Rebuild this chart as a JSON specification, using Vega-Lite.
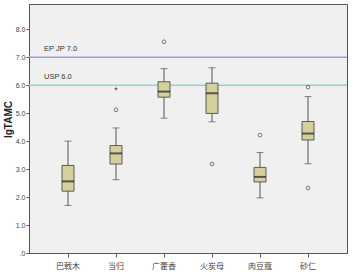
{
  "$schema": "https://vega.github.io/schema/vega-lite/v6.json",
  "width": 318,
  "height": 249,
  "autosize": {"type": "none"},
  "padding": {"left": 29, "top": 4, "right": 6, "bottom": 22},
  "background": "#ffffff",
  "config": {
    "view": {"fill": "#f0f0f0", "stroke": "#555555", "strokeWidth": 1},
    "font": "Liberation Sans",
    "axisY": {
      "labelOverlap": false,
      "tickCount": 9,
      "labelFontSize": 7, "labelColor": "#444444", "tickColor": "#555555", "tickSize": 3,
      "labelPadding": 1, "domainColor": "#555555", "grid": false
    }
  },
  "datasets": {
    "boxes": [
      {"group": "巴戟木", "lower": 1.70, "q1": 2.21, "median": 2.56, "q3": 3.13, "upper": 4.00},
      {"group": "当归", "lower": 2.62, "q1": 3.18, "median": 3.56, "q3": 3.84, "upper": 4.47},
      {"group": "广藿香", "lower": 4.82, "q1": 5.57, "median": 5.77, "q3": 6.12, "upper": 6.59},
      {"group": "火炭母", "lower": 4.69, "q1": 4.99, "median": 5.71, "q3": 6.07, "upper": 6.62},
      {"group": "肉豆蔻", "lower": 1.97, "q1": 2.54, "median": 2.72, "q3": 3.06, "upper": 3.59},
      {"group": "砂仁", "lower": 3.19, "q1": 4.04, "median": 4.27, "q3": 4.70, "upper": 5.59}
    ],
    "outliers": [
      {"group": "当归", "value": 5.12, "kind": "circle"},
      {"group": "当归", "value": 5.87, "kind": "star"},
      {"group": "广藿香", "value": 7.55, "kind": "circle"},
      {"group": "火炭母", "value": 3.18, "kind": "circle"},
      {"group": "肉豆蔻", "value": 4.21, "kind": "circle"},
      {"group": "砂仁", "value": 5.93, "kind": "circle"},
      {"group": "砂仁", "value": 2.32, "kind": "circle"}
    ],
    "refs": [
      {"group": "巴戟木", "value": 7.0, "label": "EP JP 7.0", "col": "#9a9aee"},
      {"group": "巴戟木", "value": 6.0, "label": "USP 6.0", "col": "#8fd3d3"}
    ]
  },
  "encoding": {
    "x": {
      "field": "group", "type": "nominal",
      "sort": ["巴戟木", "当归", "广藿香", "火炭母", "肉豆蔻", "砂仁"],
      "scale": {"paddingInner": 0.5, "paddingOuter": 0.5625},
      "axis": {
        "title": null, "labelAngle": 0, "labelFont": "Noto Sans CJK SC", "labelFontSize": 8,
        "labelColor": "#444444", "tickColor": "#555555", "tickSize": 4, "domainColor": "#555555",
        "labelPadding": 5, "grid": false
      }
    }
  },
  "layer": [
    {
      "data": {"name": "refs"},
      "mark": {"type": "rule", "strokeWidth": 1.5},
      "encoding": {
        "x": null,
        "y": {
          "field": "value", "type": "quantitative",
          "scale": {"domain": [0, 8.9], "nice": false, "zero": true},
          "axis": {
            "title": "lgTAMC", "titleFontSize": 10, "titleFontWeight": "bold", "titleColor": "#222222",
            "titleX": -16, "titleY": 115,
            "values": [0, 1, 2, 3, 4, 5, 6, 7, 8],
            "tickCount": 9,
            "labelOverlap": false,
            "labelExpr": "datum.value == 0 ? '.0' : format(datum.value, '.1f')"
          }
        },
        "color": {"field": "col", "type": "nominal", "scale": null}
      }
    },
    {
      "data": {"name": "refs"},
      "mark": {"type": "text", "align": "left", "baseline": "bottom", "dx": -24, "dy": -4, "fontSize": 7.5, "color": "#333333"},
      "encoding": {
        "y": {"field": "value", "type": "quantitative"},
        "text": {"field": "label"}
      }
    },
    {
      "data": {"name": "boxes"},
      "mark": {"type": "rule", "color": "#555555", "strokeWidth": 1},
      "encoding": {
        "y": {"field": "lower", "type": "quantitative"},
        "y2": {"field": "upper"}
      }
    },
    {
      "data": {"name": "boxes"},
      "mark": {"type": "tick", "color": "#555555", "thickness": 1, "size": 7, "orient": "horizontal"},
      "encoding": {"y": {"field": "lower", "type": "quantitative"}}
    },
    {
      "data": {"name": "boxes"},
      "mark": {"type": "tick", "color": "#555555", "thickness": 1, "size": 7, "orient": "horizontal"},
      "encoding": {"y": {"field": "upper", "type": "quantitative"}}
    },
    {
      "data": {"name": "boxes"},
      "mark": {"type": "bar", "width": 12, "fill": "#d6d19c", "stroke": "#5a5a5a", "strokeWidth": 1},
      "encoding": {
        "y": {"field": "q1", "type": "quantitative"},
        "y2": {"field": "q3"}
      }
    },
    {
      "data": {"name": "boxes"},
      "mark": {"type": "tick", "color": "#222222", "thickness": 2, "size": 12, "orient": "horizontal"},
      "encoding": {"y": {"field": "median", "type": "quantitative"}}
    },
    {
      "data": {"name": "outliers"},
      "transform": [{"filter": "datum.kind == 'circle'"}],
      "mark": {"type": "point", "shape": "circle", "size": 14, "filled": false, "stroke": "#444444", "strokeWidth": 1},
      "encoding": {"y": {"field": "value", "type": "quantitative"}}
    },
    {
      "data": {"name": "outliers"},
      "transform": [{"filter": "datum.kind == 'star'"}],
      "mark": {"type": "point", "shape": "M0,-1L0.2245,-0.309L0.951,-0.309L0.363,0.118L0.588,0.809L0,0.382L-0.588,0.809L-0.363,0.118L-0.951,-0.309L-0.2245,-0.309Z", "size": 20, "filled": true, "color": "#333333"},
      "encoding": {"y": {"field": "value", "type": "quantitative"}}
    }
  ]
}
